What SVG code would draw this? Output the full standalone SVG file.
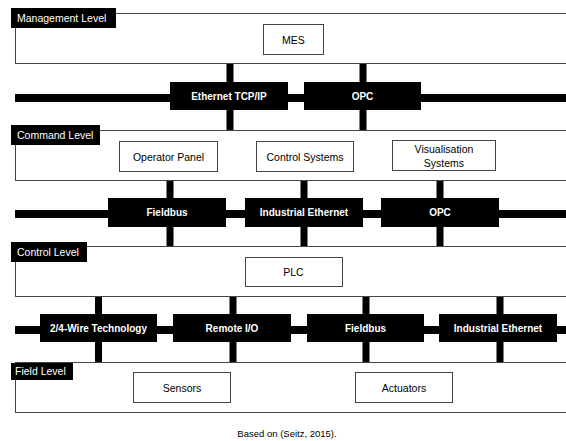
<svg xmlns="http://www.w3.org/2000/svg" width="566" height="441" viewBox="0 0 566 441">
<style>
.lvl{fill:#fff;stroke:#444;stroke-width:1}
.lab{fill:#000}
.labt{fill:#fff;font-family:"Liberation Sans",Arial,sans-serif;font-size:10.5px}
.node{fill:#fff;stroke:#444;stroke-width:1}
.nt{fill:#000;font-family:"Liberation Sans",Arial,sans-serif;font-size:10.5px;text-anchor:middle;dominant-baseline:central}
.bus{fill:#000}
.bt{fill:#fff;font-family:"Liberation Sans",Arial,sans-serif;font-size:10px;font-weight:bold;text-anchor:middle;dominant-baseline:central}
.cap{fill:#000;font-family:"Liberation Sans",Arial,sans-serif;font-size:9.5px;text-anchor:middle}
</style>
<rect width="566" height="441" fill="#fff"/>

<g id="connectors" fill="#000">
  <rect x="15" y="94" width="560" height="8"/>
  <rect x="15" y="210" width="560" height="8"/>
  <rect x="15" y="326" width="560" height="8"/>
  <rect x="226.5" y="63" width="7" height="67"/>
  <rect x="359.5" y="63" width="7" height="67"/>
  <rect x="166.5" y="180" width="7" height="67"/>
  <rect x="300.5" y="180" width="7" height="67"/>
  <rect x="436.5" y="180" width="7" height="67"/>
  <rect x="95" y="296" width="7" height="67"/>
  <rect x="229.5" y="296" width="7" height="67"/>
  <rect x="362.5" y="296" width="7" height="67"/>
  <rect x="496.5" y="296" width="7" height="67"/>
</g>

<g id="management-level">
  <rect class="lvl" x="15.5" y="13.5" width="560" height="50"/>
  <rect class="lab" x="11" y="8" width="105" height="20"/>
  <text class="labt" x="17" y="22">Management Level</text>
</g>
<g id="command-level">
  <rect class="lvl" x="15.5" y="130.5" width="560" height="50"/>
  <rect class="lab" x="11" y="125" width="89" height="20"/>
  <text class="labt" x="17" y="139">Command Level</text>
</g>
<g id="control-level">
  <rect class="lvl" x="15.5" y="246.5" width="560" height="50"/>
  <rect class="lab" x="11" y="242" width="76" height="20"/>
  <text class="labt" x="17" y="256">Control Level</text>
</g>
<g id="field-level">
  <rect class="lvl" x="15.5" y="362.5" width="560" height="50"/>
  <rect class="lab" x="11" y="363" width="62" height="17"/>
  <text class="labt" x="15" y="375">Field Level</text>
</g>

<g id="mes"><rect class="node" x="263.5" y="24.5" width="60" height="30"/><text class="nt" x="293.5" y="40">MES</text></g>
<g id="operator-panel"><rect class="node" x="119.5" y="141.5" width="98" height="30"/><text class="nt" x="168.5" y="157">Operator Panel</text></g>
<g id="control-systems"><rect class="node" x="256.5" y="141.5" width="97" height="30"/><text class="nt" x="305" y="157">Control Systems</text></g>
<g id="visualisation-systems"><rect class="node" x="392.5" y="140.5" width="103" height="30"/><text class="nt" x="444" y="149">Visualisation</text><text class="nt" x="444" y="163">Systems</text></g>
<g id="plc"><rect class="node" x="245.5" y="257.5" width="97" height="29"/><text class="nt" x="293.5" y="272">PLC</text></g>
<g id="sensors"><rect class="node" x="133.5" y="372.5" width="97" height="30"/><text class="nt" x="182" y="388">Sensors</text></g>
<g id="actuators"><rect class="node" x="355.5" y="372.5" width="97" height="30"/><text class="nt" x="404" y="388">Actuators</text></g>

<g id="ethernet-tcpip"><rect class="bus" x="170" y="82" width="118" height="28"/><text class="bt" x="229" y="96.5">Ethernet TCP/IP</text></g>
<g id="opc-1"><rect class="bus" x="304" y="82" width="117" height="28"/><text class="bt" x="362.5" y="96.5">OPC</text></g>

<g id="fieldbus-1"><rect class="bus" x="108" y="198" width="118" height="29"/><text class="bt" x="167" y="212.5">Fieldbus</text></g>
<g id="industrial-ethernet-1"><rect class="bus" x="245" y="198" width="118" height="29"/><text class="bt" x="304" y="212.5">Industrial Ethernet</text></g>
<g id="opc-2"><rect class="bus" x="381" y="198" width="118" height="29"/><text class="bt" x="440" y="212.5">OPC</text></g>

<g id="wire-technology"><rect class="bus" x="40" y="314" width="117" height="28"/><text class="bt" x="98.5" y="328.5">2/4-Wire Technology</text></g>
<g id="remote-io"><rect class="bus" x="173" y="314" width="118" height="28"/><text class="bt" x="232" y="328.5">Remote I/O</text></g>
<g id="fieldbus-2"><rect class="bus" x="307" y="314" width="117" height="28"/><text class="bt" x="365.5" y="328.5">Fieldbus</text></g>
<g id="industrial-ethernet-2"><rect class="bus" x="439" y="314" width="118" height="28"/><text class="bt" x="498" y="328.5">Industrial Ethernet</text></g>

<text class="cap" x="287" y="437">Based on (Seitz, 2015).</text>
</svg>
